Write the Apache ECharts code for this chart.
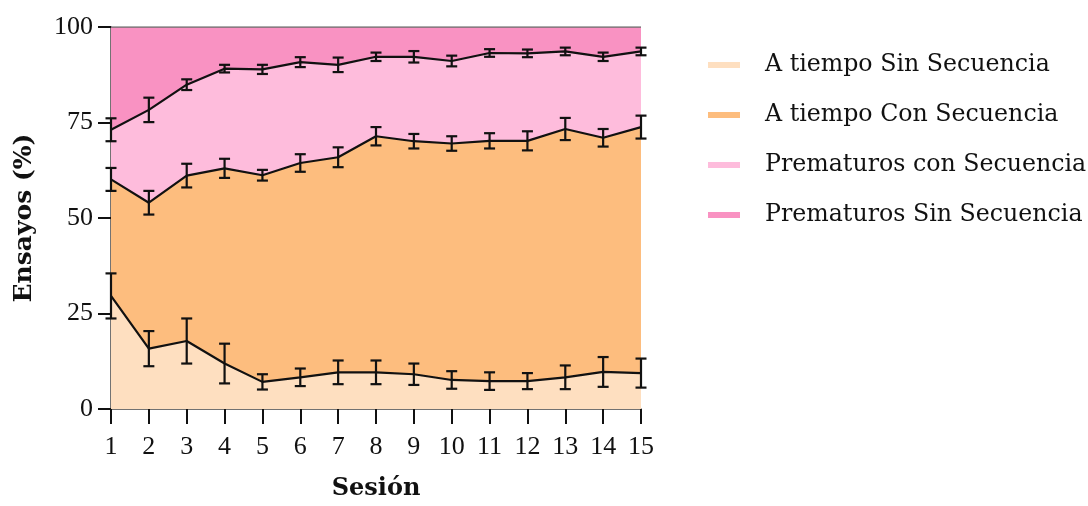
<!DOCTYPE html>
<html>
<head>
<meta charset="utf-8">
<script src="https://cdn.jsdelivr.net/npm/echarts@6/dist/echarts.min.js"></script>
<style>
html,body{margin:0;padding:0;background:#fff;overflow:hidden;}
#chart{width:1088px;height:506px;}
</style>
</head>
<body>
<div id="chart"></div>
<script>
// Sessions (x categories)
var sessions = ['1','2','3','4','5','6','7','8','9','10','11','12','13','14','15'];
var seriesNames = ['A tiempo Sin Secuencia','A tiempo Con Secuencia','Prematuros con Secuencia','Prematuros Sin Secuencia'];
// Percent of trials per category (stacked, sums to 100)
var aTiempoSinSecuencia   = [29.6,15.8,17.8,11.9,7.1,8.3,9.6,9.6,9.1,7.6,7.3,7.3,8.3,9.7,9.4];
var aTiempoConSecuencia   = [30.5,38.2,43.3,51.1,54.1,56.1,56.3,61.8,61.0,61.9,62.9,62.9,65.0,61.3,64.4];
var prematurosConSecuencia= [13.0,24.3,23.8,26.1,27.7,26.4,24.2,20.8,22.1,21.6,23.0,22.9,20.3,21.2,19.8];
var prematurosSinSecuencia= [26.9,21.7,15.1,10.9,11.1,9.2,9.9,7.8,7.8,8.9,6.8,6.9,6.4,7.8,6.4];
// Error (half-width) on each cumulative boundary line
var errLower = [5.9,4.6,5.9,5.2,2.0,2.3,3.1,3.1,2.8,2.3,2.3,2.1,3.1,3.9,3.8];
var errMid   = [3.0,3.1,3.1,2.5,1.4,2.3,2.6,2.4,1.9,1.9,2.0,2.5,2.9,2.3,3.0];
var errTop   = [3.0,3.2,1.4,1.0,1.2,1.3,1.9,1.1,1.5,1.4,1.0,1.0,1.0,1.1,1.0];
var yTicks = [0,25,50,75,100];

var colors = ['#FEDFC0','#FDBD7E','#FEBCDC','#F992C2'];
var valueArrays = [aTiempoSinSecuencia,aTiempoConSecuencia,prematurosConSecuencia,prematurosSinSecuencia];

// error bar items: [categoryIndex, center, err]
var errData = [];
sessions.forEach(function(s,i){
  var c1 = aTiempoSinSecuencia[i];
  var c2 = c1 + aTiempoConSecuencia[i];
  var c3 = c2 + prematurosConSecuencia[i];
  errData.push([i,c1,errLower[i]]);
  errData.push([i,c2,errMid[i]]);
  errData.push([i,c3,errTop[i]]);
});

var serif = 'Liberation Serif';
var serif2 = 'DejaVu Serif';

var series = valueArrays.map(function(arr, k){
  return {
    name: seriesNames[k],
    type: 'line',
    stack: 'total',
    data: arr,
    showSymbol: false,
    symbol: 'none',
    z: 5 - k,
    itemStyle: {color: colors[k]},
    lineStyle: {color: k === 3 ? '#6d6d6d' : '#111', width: k === 3 ? 1.5 : 2.2},
    areaStyle: {color: colors[k], opacity: 1},
    emphasis: {disabled: true},
    silent: true,
    animation: false
  };
});

series.push({
  type: 'custom',
  name: 'err',
  z: 10,
  silent: true,
  animation: false,
  data: errData,
  encode: {x: 0, y: 1},
  renderItem: function(params, api){
    var x = api.value(0), c = api.value(1), e = api.value(2);
    var top = api.coord([x, c + e]);
    var bot = api.coord([x, c - e]);
    var hw = 5.5;
    var st = {stroke:'#111', lineWidth:2.2, fill:'none'};
    return {
      type:'group',
      children:[
        {type:'line', shape:{x1:top[0],y1:top[1],x2:bot[0],y2:bot[1]}, style:st},
        {type:'line', shape:{x1:top[0]-hw,y1:top[1],x2:top[0]+hw,y2:top[1]}, style:st},
        {type:'line', shape:{x1:bot[0]-hw,y1:bot[1],x2:bot[0]+hw,y2:bot[1]}, style:st}
      ]
    };
  }
});

var chart = echarts.init(document.getElementById('chart'), null, {renderer:'canvas'});
chart.setOption({
  backgroundColor:'#ffffff',
  animation:false,
  grid:{left:111, right:447, top:27, bottom:95, containLabel:false},
  legend:{
    orient:'vertical',
    left:703, top:45,
    icon:'rect',
    itemWidth:32, itemHeight:6,
    itemGap:20,
    selectedMode:false,
    textStyle:{fontFamily:serif2, fontSize:23.7, color:'#111', lineHeight:30, padding:[0,0,0,20]},
    data: seriesNames.map(function(n,k){ return {name:n, itemStyle:{color:colors[k], borderWidth:0}}; })
  },
  xAxis:{
    type:'category', data:sessions, boundaryGap:false,
    name:'Sesión', nameLocation:'middle', nameGap:68,
    nameTextStyle:{fontFamily:serif2, fontWeight:'bold', fontSize:24, color:'#111'},
    axisLine:{show:true, onZero:false, lineStyle:{color:'#444', width:1.5}},
    axisTick:{show:true, length:15, interval:0, lineStyle:{color:'#111', width:2}},
    axisLabel:{fontFamily:serif, fontSize:26, color:'#111', margin:25, interval:0},
    splitLine:{show:false}
  },
  yAxis:{
    type:'value', min:0, max:100, interval:25,
    name:'Ensayos (%)', nameLocation:'middle', nameGap:74,
    nameTextStyle:{fontFamily:serif2, fontWeight:'bold', fontSize:25, color:'#111'},
    axisLine:{show:true, lineStyle:{color:'#444', width:1.5}},
    axisTick:{show:true, length:13, lineStyle:{color:'#111', width:2}},
    axisLabel:{fontFamily:serif, fontSize:26, color:'#111', margin:18,
      formatter:function(v){ return yTicks.indexOf(v) >= 0 ? String(v) : ''; }},
    splitLine:{show:false}
  },
  series: series
});
</script>
</body>
</html>
